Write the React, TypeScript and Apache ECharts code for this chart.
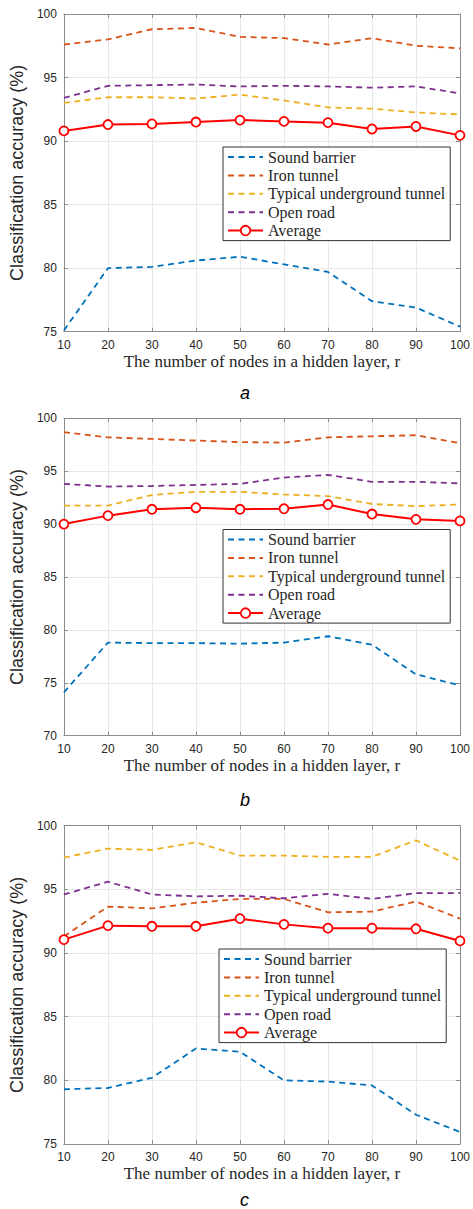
import React, { useEffect, useRef } from "react";
import * as echarts from "echarts";

const nodes = [10, 20, 30, 40, 50, 60, 70, 80, 90, 100];
const seriesNames = ["Sound barrier", "Iron tunnel", "Typical underground tunnel", "Open road", "Average"];
const panelLabels = ["a", "b", "c"];
const yMins = [75, 70, 75];

// panel a
const aSound = [75.1, 80.0, 80.1, 80.6, 80.9, 80.3, 79.7, 77.4, 76.9, 75.4];
const aIron = [97.6, 98.0, 98.8, 98.9, 98.2, 98.1, 97.6, 98.1, 97.5, 97.3];
const aTypical = [93.0, 93.45, 93.45, 93.35, 93.65, 93.2, 92.65, 92.55, 92.25, 92.1];
const aOpen = [93.4, 94.35, 94.4, 94.45, 94.3, 94.35, 94.3, 94.2, 94.3, 93.75];
const aAverage = [90.8, 91.3, 91.35, 91.5, 91.65, 91.55, 91.45, 90.95, 91.15, 90.45];

// panel b
const bSound = [74.1, 78.8, 78.75, 78.75, 78.7, 78.8, 79.4, 78.6, 75.8, 74.75];
const bIron = [98.7, 98.2, 98.05, 97.9, 97.75, 97.7, 98.2, 98.3, 98.4, 97.65];
const bTypical = [91.75, 91.75, 92.75, 93.05, 93.05, 92.8, 92.65, 91.9, 91.7, 91.85];
const bOpen = [93.8, 93.55, 93.6, 93.7, 93.8, 94.4, 94.65, 94.0, 94.0, 93.85];
const bAverage = [90.0, 90.8, 91.4, 91.55, 91.4, 91.45, 91.85, 90.95, 90.45, 90.3];

// panel c
const cSound = [79.3, 79.4, 80.2, 82.5, 82.25, 80.0, 79.9, 79.6, 77.3, 75.95];
const cIron = [91.3, 93.65, 93.5, 93.95, 94.25, 94.25, 93.2, 93.25, 94.05, 92.7];
const cTypical = [97.5, 98.2, 98.1, 98.7, 97.65, 97.65, 97.55, 97.55, 98.85, 97.25];
const cOpen = [94.6, 95.6, 94.6, 94.45, 94.5, 94.3, 94.65, 94.25, 94.7, 94.7];
const cAverage = [91.05, 92.15, 92.1, 92.1, 92.7, 92.25, 91.95, 91.95, 91.9, 90.95];

const panels = [
  [aSound, aIron, aTypical, aOpen, aAverage],
  [bSound, bIron, bTypical, bOpen, bAverage],
  [cSound, cIron, cTypical, cOpen, cAverage],
];

const colors = ["#0072BD", "#D95319", "#EDB120", "#7E2F8E", "#FF0000"];

const gridTops = [14, 418.3, 825.7];
const gridHeights = [317.7, 317.4, 318.3];
const legendTops = [147, 529.5, 949];
const legendLefts = [223, 223, 219];
const labelYs = [395, 801.5, 1202];
const GRID_LEFT = 57.5;
const GRID_WIDTH = 403;

const axisGray = "#8c8c8c";
const tickText = "#262626";

export default function App() {
  const ref = useRef<HTMLDivElement>(null);
  useEffect(() => {
    document.body.style.margin = "0";
    const chart = echarts.init(ref.current!, undefined, { renderer: "svg" });
    const grids: any[] = [];
    const xAxes: any[] = [];
    const yAxes: any[] = [];
    const series: any[] = [];
    const legends: any[] = [];
    const graphics: any[] = [];

    panels.forEach((pdata, p) => {
      grids.push({
        left: GRID_LEFT,
        top: gridTops[p],
        width: GRID_WIDTH,
        height: gridHeights[p],
        show: false,
      });
      xAxes.push({
        type: "value",
        gridIndex: p,
        min: 10,
        max: 100,
        interval: 10,
        position: "bottom",
        axisLine: { show: true, onZero: false, lineStyle: { color: axisGray, width: 1 } },
        axisTick: { show: true, inside: true, length: 4, lineStyle: { color: axisGray } },
        axisLabel: { color: tickText, fontSize: 12, fontFamily: "Liberation Sans", margin: 7 },
        splitLine: { show: true, lineStyle: { color: "#e8e8e8", width: 1 } },
        name: "The number of nodes in a hidden layer, r",
        nameLocation: "middle",
        nameGap: 21,
        nameTextStyle: { color: "#262626", fontSize: 17, fontFamily: "Liberation Serif" },
      });
      xAxes.push({
        type: "value",
        gridIndex: p,
        min: 10,
        max: 100,
        interval: 10,
        position: "top",
        axisLine: { show: true, onZero: false, lineStyle: { color: axisGray, width: 1 } },
        axisTick: { show: true, inside: true, length: 4, lineStyle: { color: axisGray } },
        axisLabel: { show: false },
        splitLine: { show: false },
      });
      yAxes.push({
        type: "value",
        gridIndex: p,
        min: yMins[p],
        max: 100,
        interval: 5,
        position: "left",
        axisLine: { show: true, onZero: false, lineStyle: { color: axisGray, width: 1 } },
        axisTick: { show: true, inside: true, length: 4, lineStyle: { color: axisGray } },
        axisLabel: { color: tickText, fontSize: 12, fontFamily: "Liberation Sans", margin: 7 },
        splitLine: { show: true, lineStyle: { color: "#e8e8e8", width: 1 } },
        name: "Classification accuracy (%)",
        nameLocation: "middle",
        nameGap: 30,
        nameTextStyle: { color: "#262626", fontSize: 18, fontFamily: "Liberation Sans" },
      });
      yAxes.push({
        type: "value",
        gridIndex: p,
        min: yMins[p],
        max: 100,
        interval: 5,
        position: "right",
        axisLine: { show: true, onZero: false, lineStyle: { color: axisGray, width: 1 } },
        axisTick: { show: true, inside: true, length: 4, lineStyle: { color: axisGray } },
        axisLabel: { show: false },
        splitLine: { show: false },
      });
      pdata.forEach((vals, s) => {
        const isAvg = s === 4;
        series.push({
          type: "line",
          name: seriesNames[s],
          xAxisIndex: p * 2,
          yAxisIndex: p * 2,
          data: nodes.map((x, i) => [x, vals[i]]),
          z: isAvg ? 5 : 3,
          symbol: isAvg ? "circle" : "none",
          symbolSize: 9,
          showSymbol: isAvg,
          itemStyle: isAvg
            ? { color: "#ffffff", borderColor: colors[s], borderWidth: 1.8 }
            : { color: colors[s] },
          lineStyle: isAvg
            ? { color: colors[s], width: 2, type: "solid" }
            : { color: colors[s], width: 1.8, type: [6, 4.5] },
          emphasis: { disabled: true },
        });
      });
      legends.push({
        show: true,
        orient: "vertical",
        left: legendLefts[p],
        top: legendTops[p],
        data: seriesNames.map((n, i) =>
          i === 4
            ? { name: n, itemStyle: { color: "#ffffff", borderColor: colors[4], borderWidth: 1.8 } }
            : { name: n, itemStyle: { opacity: 0 } }
        ),
        itemWidth: 35,
        itemHeight: 12,
        itemGap: 2.4,
        padding: [2, 5, 2, 4],
        borderColor: "#333333",
        borderWidth: 1,
        backgroundColor: "#ffffff",
        selectedMode: false,
        textStyle: { color: "#262626", fontSize: 16, fontFamily: "Liberation Serif" },
      });
      graphics.push({
        type: "text",
        left: 240,
        top: labelYs[p] - 11,
        style: {
          text: panelLabels[p],
          fill: "#000000",
          font: "italic 18px 'Liberation Sans'",
        },
      });
    });

    chart.setOption({
      animation: false,
      backgroundColor: "#ffffff",
      grid: grids,
      xAxis: xAxes,
      yAxis: yAxes,
      series,
      legend: legends,
      graphic: graphics,
    });
    return () => chart.dispose();
  }, []);
  return <div ref={ref} style={{ width: 473, height: 1209 }} />;
}
